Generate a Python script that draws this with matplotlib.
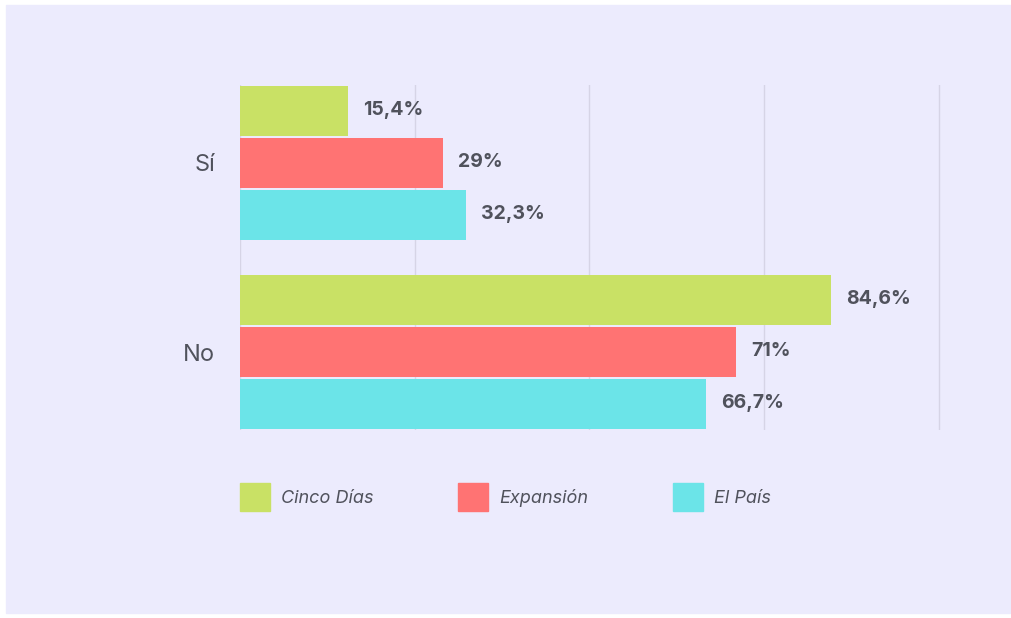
import matplotlib.pyplot as plt
import matplotlib.patches as mpatches
import numpy as np

categories = ['Sí', 'No']
series = ['Cinco Días', 'Expansión', 'El País']
values = {
    'Cinco Días': [15.4, 84.6],
    'Expansión': [29.0, 71.0],
    'El País': [32.3, 66.7],
}
labels = {
    'Cinco Días': ['15,4%', '84,6%'],
    'Expansión': ['29%', '71%'],
    'El País': ['32,3%', '66,7%'],
}
colors = ['#C9E165', '#FF7373', '#6BE4E8']

bg = '#ECEBFD'
txt = '#50525C'

fig = plt.figure(figsize=(10.12, 6.18), dpi=100, facecolor='white')
fig.patches.append(mpatches.Rectangle((6 / 1012, 5 / 618), 1004 / 1012, 608 / 618,
                                      transform=fig.transFigure, color=bg, zorder=-10))
ax = fig.add_axes([240 / 1012, 1 - 430 / 618, 701 / 1012, 345 / 618])
ax.set_facecolor('none')

y = np.arange(len(categories))
step = 0.275
h = 0.265
for i, name in enumerate(series):
    pos = y + (i - 1) * step
    ax.barh(pos, values[name], height=h, color=colors[i], label=name, zorder=2)
    for p, v, lab in zip(pos, values[name], labels[name]):
        ax.annotate(lab, (v, p), xytext=(11, 1), textcoords='offset points',
                    va='center', ha='left', fontsize=14, fontweight='bold',
                    color=txt, family=['Inter', 'DejaVu Sans'])

ax.set_xlim(0, 100.3)
ax.set_ylim(1 + step + h / 2 + 0.005, -step - h / 2 - 0.005)
ax.set_xticks([0, 25, 50, 75, 100])
ax.set_xticklabels([])
ax.grid(axis='x', color='#D6D4E6', lw=1, zorder=0)
ax.set_yticks(y)
ax.set_yticklabels(categories, fontsize=17, color=txt, family=['Inter', 'DejaVu Sans'])
ax.tick_params(length=0, pad=18)
for s in ax.spines.values():
    s.set_visible(False)

handles = [mpatches.Patch(color=c) for c in colors]
fig.legend(handles, series, loc='center left', bbox_to_anchor=(226 / 1012, 1 - 497 / 618),
           ncol=3, frameon=False, handlelength=1.65, handleheight=2.0,
           handletextpad=0.6, columnspacing=4.7, borderpad=0.3,
           prop={'family': ['Inter', 'DejaVu Sans'], 'style': 'italic', 'size': 13},
           labelcolor=txt)

fig.savefig('out.png', dpi=100, facecolor='white')
